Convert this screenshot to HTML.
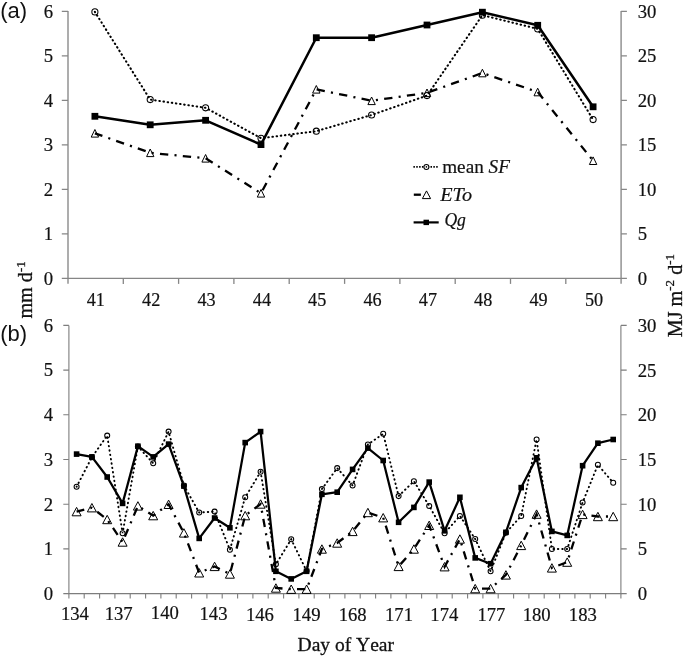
<!DOCTYPE html>
<html lang="en"><head><meta charset="utf-8"><title>Sap flow, ETo and Qg by day of year</title>
<style>
html,body{margin:0;padding:0;background:#fff;}
body{width:684px;height:657px;overflow:hidden;position:relative;}
svg{display:block;position:absolute;left:0;top:0;}
text{font-family:"Liberation Serif","Times New Roman",serif;font-size:18.7px;fill:#111;stroke:#111;stroke-width:0.2;}
.sans{font-family:"Liberation Sans",Arial,sans-serif;font-size:22px;fill:#111;stroke:none;}
.ax{stroke:#868686;stroke-width:1.15;fill:none;}
.solid{stroke:#000;stroke-width:2.5;fill:none;stroke-linejoin:round;}
.dot{stroke:#000;stroke-width:2.05;fill:none;stroke-dasharray:0.5 3.69;stroke-linecap:round;stroke-dashoffset:0.25;}
.dd{stroke:#000;stroke-width:2.3;fill:none;stroke-dasharray:8.31 6.23 2.08 6.24;stroke-dashoffset:0.4;}
.sq{fill:#000;stroke:none;}
.ci{fill:none;stroke:#000;stroke-width:1.05;}
.tr{fill:none;stroke:#000;stroke-width:1;}
.it{font-style:italic;}
.sup{font-size:13px;}
.ttl{font-size:20.2px;stroke:#111;stroke-width:0.3;}
</style></head><body>
<svg width="684" height="657" viewBox="0 0 684 657">
<rect x="0" y="0" width="684" height="657" fill="#fff"/>

<g class="ax">
<path d="M68.0 10.9V283.7M621.1 10.9V283.7" style="stroke-width:1.5;stroke:#939393"/>
<path d="M68.0 278.4H621.1"/>
<path d="M61.8 278.4H68.0M621.1 278.4H626.9"/>
<path d="M61.8 233.9H68.0M621.1 233.9H626.9"/>
<path d="M61.8 189.4H68.0M621.1 189.4H626.9"/>
<path d="M61.8 144.9H68.0M621.1 144.9H626.9"/>
<path d="M61.8 100.4H68.0M621.1 100.4H626.9"/>
<path d="M61.8 55.9H68.0M621.1 55.9H626.9"/>
<path d="M61.8 11.4H68.0M621.1 11.4H626.9"/>
<path d="M123.3 278.4V283.9" style="stroke-width:1.3"/>
<path d="M178.6 278.4V283.9" style="stroke-width:1.3"/>
<path d="M233.9 278.4V283.9" style="stroke-width:1.3"/>
<path d="M289.2 278.4V283.9" style="stroke-width:1.3"/>
<path d="M344.6 278.4V283.9" style="stroke-width:1.3"/>
<path d="M399.9 278.4V283.9" style="stroke-width:1.3"/>
<path d="M455.2 278.4V283.9" style="stroke-width:1.3"/>
<path d="M510.5 278.4V283.9" style="stroke-width:1.3"/>
<path d="M565.8 278.4V283.9" style="stroke-width:1.3"/>
</g>
<g text-anchor="middle">
<text x="48.3" y="284.7">0</text>
<text x="48.3" y="240.2">1</text>
<text x="48.3" y="195.7">2</text>
<text x="48.3" y="151.2">3</text>
<text x="48.3" y="106.7">4</text>
<text x="48.3" y="62.2">5</text>
<text x="48.3" y="17.7">6</text>
</g><g text-anchor="start">
<text x="637.7" y="284.8">0</text>
<text x="637.7" y="240.3">5</text>
<text x="637.7" y="195.8">10</text>
<text x="637.7" y="151.3">15</text>
<text x="637.7" y="106.8">20</text>
<text x="637.7" y="62.3">25</text>
<text x="637.7" y="17.8">30</text>
</g><g text-anchor="middle">
<text x="95.8" y="306" style="font-size:18.2px">41</text>
<text x="151.2" y="306" style="font-size:18.2px">42</text>
<text x="206.5" y="306" style="font-size:18.2px">43</text>
<text x="261.9" y="306" style="font-size:18.2px">44</text>
<text x="317.2" y="306" style="font-size:18.2px">45</text>
<text x="372.5" y="306" style="font-size:18.2px">46</text>
<text x="427.9" y="306" style="font-size:18.2px">47</text>
<text x="483.2" y="306" style="font-size:18.2px">48</text>
<text x="538.6" y="306" style="font-size:18.2px">49</text>
<text x="594.0" y="306" style="font-size:18.2px">50</text>
</g>
<polyline class="dd" style="stroke-dasharray:8.34 6.26 2.09 6.26" points="94.9,133.3 150.2,152.8 205.6,158.3 261.0,193.3 316.3,89.3 371.6,100.8 427.0,92.8 482.4,73.0 537.7,92.0 593.1,160.7"/>
<g class="tr"><path d="M91.2 137.1L94.9 129.5L98.6 137.1Z"/><path d="M146.6 156.6L150.2 149.0L153.9 156.6Z"/><path d="M201.9 162.1L205.6 154.5L209.3 162.1Z"/><path d="M257.3 197.1L261.0 189.5L264.7 197.1Z"/><path d="M312.6 93.1L316.3 85.5L320.0 93.1Z"/><path d="M367.9 104.6L371.6 97.0L375.3 104.6Z"/><path d="M423.3 96.6L427.0 89.0L430.7 96.6Z"/><path d="M478.7 76.8L482.4 69.2L486.1 76.8Z"/><path d="M534.0 95.8L537.7 88.2L541.4 95.8Z"/><path d="M589.4 164.5L593.1 156.9L596.8 164.5Z"/></g>
<polyline class="dot" points="94.9,11.9 150.2,99.6 205.6,107.8 261.0,138.2 316.3,131.2 371.6,115.0 427.0,95.6 482.4,15.2 537.7,28.9 593.1,119.6"/>
<g class="ci"><circle cx="94.9" cy="11.9" r="3.05"/><circle cx="150.2" cy="99.6" r="3.05"/><circle cx="205.6" cy="107.8" r="3.05"/><circle cx="261.0" cy="138.2" r="3.05"/><circle cx="316.3" cy="131.2" r="3.05"/><circle cx="371.6" cy="115.0" r="3.05"/><circle cx="427.0" cy="95.6" r="3.05"/><circle cx="482.4" cy="15.2" r="3.05"/><circle cx="537.7" cy="28.9" r="3.05"/><circle cx="593.1" cy="119.6" r="3.05"/></g>
<polyline class="solid" points="94.9,116.3 150.2,124.8 205.6,120.3 261.0,144.6 316.3,37.7 371.6,37.7 427.0,25.0 482.4,12.2 537.7,25.3 593.1,106.8"/>
<g class="sq"><rect x="91.5" y="112.9" width="6.8" height="6.8"/><rect x="146.8" y="121.4" width="6.8" height="6.8"/><rect x="202.2" y="116.9" width="6.8" height="6.8"/><rect x="257.6" y="141.2" width="6.8" height="6.8"/><rect x="312.9" y="34.3" width="6.8" height="6.8"/><rect x="368.2" y="34.3" width="6.8" height="6.8"/><rect x="423.6" y="21.6" width="6.8" height="6.8"/><rect x="479.0" y="8.8" width="6.8" height="6.8"/><rect x="534.3" y="21.9" width="6.8" height="6.8"/><rect x="589.7" y="103.4" width="6.8" height="6.8"/></g>
<path d="M413.4 166.9H438" stroke="#000" stroke-width="1.6" stroke-dasharray="1.5 1.35" fill="none"/>
<circle cx="426.4" cy="166.9" r="2.5" fill="#fff" stroke="#000" stroke-width="1.05"/><circle cx="426.4" cy="166.9" r="0.8" fill="#000"/>
<text x="442.2" y="172.6" style="font-size:19.2px">mean <tspan class="it">SF</tspan></text>
<path d="M413.8 194.7H420.9" stroke="#000" stroke-width="2.3" fill="none"/>
<path d="M422.4 198.6L426.5 190.9L430.6 198.6Z" class="tr" fill="#fff"/>
<text transform="translate(440.2,200.8) scale(1.08,1)" class="it">ETo</text>
<path d="M413.6 222.4H438.7" stroke="#000" stroke-width="2.2" fill="none"/>
<rect x="423.5" y="219.7" width="5.5" height="5.4" fill="#000"/>
<text transform="translate(444.4,226.2) scale(0.94,1)" class="it">Qg</text>
<text class="sans" x="0.3" y="17.8">(a)</text>
<text class="sans" x="0.3" y="340.8">(b)</text>
<text class="ttl" transform="translate(32.2,318.6) rotate(-90)">mm d<tspan class="sup" dy="-7.5">-1</tspan></text>
<text class="ttl" transform="translate(681.7,337.3) rotate(-90)">MJ m<tspan class="sup" dy="-7.5">-2</tspan><tspan dy="7.5"> d</tspan><tspan class="sup" dy="-7.5">-1</tspan></text>
<text x="345.8" y="650.5" text-anchor="middle" style="font-size:19.5px;font-kerning:none;stroke:#111;stroke-width:0.3">Day of Year</text>
<g class="ax" style="stroke-width:1.1;stroke:#7d7d7d">
<path d="M68.9 325.4V593.6H620.9V325.4"/>
<path d="M63.300000000000004 593.6H68.9M620.9 593.6H626.6999999999999"/>
<path d="M63.300000000000004 548.9H68.9M620.9 548.9H626.6999999999999"/>
<path d="M63.300000000000004 504.2H68.9M620.9 504.2H626.6999999999999"/>
<path d="M63.300000000000004 459.5H68.9M620.9 459.5H626.6999999999999"/>
<path d="M63.300000000000004 414.8H68.9M620.9 414.8H626.6999999999999"/>
<path d="M63.300000000000004 370.1H68.9M620.9 370.1H626.6999999999999"/>
<path d="M63.300000000000004 325.4H68.9M620.9 325.4H626.6999999999999"/>
<path d="M68.9 593.6V598.6"/>
<path d="M84.2 593.6V598.6"/>
<path d="M99.6 593.6V598.6"/>
<path d="M114.9 593.6V598.6"/>
<path d="M130.2 593.6V598.6"/>
<path d="M145.6 593.6V598.6"/>
<path d="M160.9 593.6V598.6"/>
<path d="M176.2 593.6V598.6"/>
<path d="M191.6 593.6V598.6"/>
<path d="M206.9 593.6V598.6"/>
<path d="M222.2 593.6V598.6"/>
<path d="M237.6 593.6V598.6"/>
<path d="M252.9 593.6V598.6"/>
<path d="M268.2 593.6V598.6"/>
<path d="M283.6 593.6V598.6"/>
<path d="M298.9 593.6V598.6"/>
<path d="M314.2 593.6V598.6"/>
<path d="M329.6 593.6V598.6"/>
<path d="M344.9 593.6V598.6"/>
<path d="M360.2 593.6V598.6"/>
<path d="M375.6 593.6V598.6"/>
<path d="M390.9 593.6V598.6"/>
<path d="M406.2 593.6V598.6"/>
<path d="M421.6 593.6V598.6"/>
<path d="M436.9 593.6V598.6"/>
<path d="M452.2 593.6V598.6"/>
<path d="M467.6 593.6V598.6"/>
<path d="M482.9 593.6V598.6"/>
<path d="M498.2 593.6V598.6"/>
<path d="M513.6 593.6V598.6"/>
<path d="M528.9 593.6V598.6"/>
<path d="M544.2 593.6V598.6"/>
<path d="M559.6 593.6V598.6"/>
<path d="M574.9 593.6V598.6"/>
<path d="M590.2 593.6V598.6"/>
<path d="M605.6 593.6V598.6"/>
<path d="M620.9 593.6V598.6"/>
</g>
<g text-anchor="middle">
<text x="48.3" y="599.9">0</text>
<text x="48.3" y="555.2">1</text>
<text x="48.3" y="510.5">2</text>
<text x="48.3" y="465.8">3</text>
<text x="48.3" y="421.1">4</text>
<text x="48.3" y="376.4">5</text>
<text x="48.3" y="331.7">6</text>
</g><g text-anchor="start">
<text x="637.7" y="600.0">0</text>
<text x="637.7" y="555.3">5</text>
<text x="637.7" y="510.6">10</text>
<text x="637.7" y="465.9">15</text>
<text x="637.7" y="421.2">20</text>
<text x="637.7" y="376.5">25</text>
<text x="637.7" y="331.8">30</text>
</g><g text-anchor="middle">
<text x="74.9" y="620.2">134</text>
<text x="118.7" y="620.2">137</text>
<text x="164.8" y="619.1">140</text>
<text x="213.5" y="619.5">143</text>
<text x="259.9" y="621.1">146</text>
<text x="306.5" y="621.3">149</text>
<text x="352.7" y="620.6">168</text>
<text x="399.0" y="620.6">171</text>
<text x="444.3" y="620.6">174</text>
<text x="491.4" y="620.6">177</text>
<text x="536.7" y="620.6">180</text>
<text x="582.8" y="620.6">183</text>
</g>
<polyline class="dd" points="76.6,511.6 91.9,507.7 107.2,519.5 122.6,542.0 137.9,505.9 153.2,515.6 168.6,504.3 183.9,532.9 199.2,572.8 214.6,566.4 229.9,574.0 245.2,515.6 260.6,504.0 275.9,588.0 291.2,589.2 306.6,589.2 321.9,549.0 337.2,543.0 352.6,531.4 367.9,512.5 383.2,517.7 398.6,566.4 413.9,549.0 429.2,525.3 444.6,566.7 459.9,539.0 475.2,588.6 490.6,588.6 505.9,574.9 521.2,545.4 536.6,514.1 551.9,567.9 567.2,562.1 582.6,514.4 597.9,516.5 613.2,516.5"/>
<g class="tr"><path d="M72.1 515.8L76.6 507.4L81.1 515.8Z"/><path d="M87.4 511.9L91.9 503.5L96.4 511.9Z"/><path d="M102.7 523.7L107.2 515.3L111.7 523.7Z"/><path d="M118.1 546.2L122.6 537.8L127.1 546.2Z"/><path d="M133.4 510.1L137.9 501.7L142.4 510.1Z"/><path d="M148.7 519.8L153.2 511.4L157.7 519.8Z"/><path d="M164.1 508.5L168.6 500.1L173.1 508.5Z"/><path d="M179.4 537.1L183.9 528.7L188.4 537.1Z"/><path d="M194.7 577.0L199.2 568.6L203.7 577.0Z"/><path d="M210.1 570.6L214.6 562.2L219.1 570.6Z"/><path d="M225.4 578.2L229.9 569.8L234.4 578.2Z"/><path d="M240.7 519.8L245.2 511.4L249.7 519.8Z"/><path d="M256.1 508.2L260.6 499.8L265.1 508.2Z"/><path d="M271.4 592.2L275.9 583.8L280.4 592.2Z"/><path d="M286.7 593.4L291.2 585.0L295.7 593.4Z"/><path d="M302.1 593.4L306.6 585.0L311.1 593.4Z"/><path d="M317.4 553.2L321.9 544.8L326.4 553.2Z"/><path d="M332.7 547.2L337.2 538.8L341.7 547.2Z"/><path d="M348.1 535.6L352.6 527.2L357.1 535.6Z"/><path d="M363.4 516.7L367.9 508.3L372.4 516.7Z"/><path d="M378.7 521.9L383.2 513.5L387.7 521.9Z"/><path d="M394.1 570.6L398.6 562.2L403.1 570.6Z"/><path d="M409.4 553.2L413.9 544.8L418.4 553.2Z"/><path d="M424.7 529.5L429.2 521.1L433.7 529.5Z"/><path d="M440.1 570.9L444.6 562.5L449.1 570.9Z"/><path d="M455.4 543.2L459.9 534.8L464.4 543.2Z"/><path d="M470.7 592.8L475.2 584.4L479.7 592.8Z"/><path d="M486.1 592.8L490.6 584.4L495.1 592.8Z"/><path d="M501.4 579.1L505.9 570.7L510.4 579.1Z"/><path d="M516.7 549.6L521.2 541.2L525.7 549.6Z"/><path d="M532.1 518.3L536.6 509.9L541.1 518.3Z"/><path d="M547.4 572.1L551.9 563.7L556.4 572.1Z"/><path d="M562.7 566.3L567.2 557.9L571.7 566.3Z"/><path d="M578.1 518.6L582.6 510.2L587.1 518.6Z"/><path d="M593.4 520.7L597.9 512.3L602.4 520.7Z"/><path d="M608.7 520.7L613.2 512.3L617.7 520.7Z"/></g>
<polyline class="dot" style="stroke-width:1.9;stroke-dasharray:0.5 3.9" points="76.6,486.7 91.9,457.2 107.2,435.6 122.6,533.2 137.9,446.5 153.2,463.3 168.6,431.6 183.9,485.5 199.2,512.5 214.6,511.6 229.9,549.7 245.2,497.3 260.6,471.8 275.9,564.3 291.2,539.3 306.6,571.0 321.9,489.1 337.2,468.1 352.6,485.5 367.9,444.4 383.2,433.8 398.6,496.1 413.9,481.2 429.2,505.9 444.6,533.2 459.9,515.9 475.2,539.0 490.6,571.3 505.9,532.8 521.2,515.9 536.6,439.5 551.9,549.0 567.2,549.0 582.6,502.5 597.9,464.8 613.2,482.7"/>
<g class="ci"><circle cx="76.6" cy="486.7" r="2.5"/><circle cx="91.9" cy="457.2" r="2.5"/><circle cx="107.2" cy="435.6" r="2.5"/><circle cx="122.6" cy="533.2" r="2.5"/><circle cx="137.9" cy="446.5" r="2.5"/><circle cx="153.2" cy="463.3" r="2.5"/><circle cx="168.6" cy="431.6" r="2.5"/><circle cx="183.9" cy="485.5" r="2.5"/><circle cx="199.2" cy="512.5" r="2.5"/><circle cx="214.6" cy="511.6" r="2.5"/><circle cx="229.9" cy="549.7" r="2.5"/><circle cx="245.2" cy="497.3" r="2.5"/><circle cx="260.6" cy="471.8" r="2.5"/><circle cx="275.9" cy="564.3" r="2.5"/><circle cx="291.2" cy="539.3" r="2.5"/><circle cx="306.6" cy="571.0" r="2.5"/><circle cx="321.9" cy="489.1" r="2.5"/><circle cx="337.2" cy="468.1" r="2.5"/><circle cx="352.6" cy="485.5" r="2.5"/><circle cx="367.9" cy="444.4" r="2.5"/><circle cx="383.2" cy="433.8" r="2.5"/><circle cx="398.6" cy="496.1" r="2.5"/><circle cx="413.9" cy="481.2" r="2.5"/><circle cx="429.2" cy="505.9" r="2.5"/><circle cx="444.6" cy="533.2" r="2.5"/><circle cx="459.9" cy="515.9" r="2.5"/><circle cx="475.2" cy="539.0" r="2.5"/><circle cx="490.6" cy="571.3" r="2.5"/><circle cx="505.9" cy="532.8" r="2.5"/><circle cx="521.2" cy="515.9" r="2.5"/><circle cx="536.6" cy="439.5" r="2.5"/><circle cx="551.9" cy="549.0" r="2.5"/><circle cx="567.2" cy="549.0" r="2.5"/><circle cx="582.6" cy="502.5" r="2.5"/><circle cx="597.9" cy="464.8" r="2.5"/><circle cx="613.2" cy="482.7" r="2.5"/></g>
<polyline class="solid" style="stroke-width:2.25" points="76.6,454.1 91.9,456.9 107.2,477.0 122.6,503.4 137.9,446.2 153.2,456.9 168.6,444.1 183.9,486.1 199.2,538.4 214.6,518.0 229.9,527.8 245.2,442.6 260.6,431.6 275.9,571.3 291.2,578.9 306.6,571.3 321.9,494.3 337.2,492.2 352.6,469.4 367.9,448.1 383.2,460.5 398.6,522.3 413.9,507.4 429.2,482.1 444.6,530.8 459.9,497.3 475.2,557.9 490.6,563.7 505.9,532.3 521.2,487.6 536.6,457.8 551.9,531.4 567.2,535.4 582.6,465.7 597.9,443.2 613.2,439.5"/>
<g class="sq"><rect x="73.8" y="451.3" width="5.6" height="5.6"/><rect x="89.1" y="454.1" width="5.6" height="5.6"/><rect x="104.4" y="474.2" width="5.6" height="5.6"/><rect x="119.8" y="500.6" width="5.6" height="5.6"/><rect x="135.1" y="443.4" width="5.6" height="5.6"/><rect x="150.4" y="454.1" width="5.6" height="5.6"/><rect x="165.8" y="441.3" width="5.6" height="5.6"/><rect x="181.1" y="483.3" width="5.6" height="5.6"/><rect x="196.4" y="535.6" width="5.6" height="5.6"/><rect x="211.8" y="515.2" width="5.6" height="5.6"/><rect x="227.1" y="525.0" width="5.6" height="5.6"/><rect x="242.4" y="439.8" width="5.6" height="5.6"/><rect x="257.8" y="428.8" width="5.6" height="5.6"/><rect x="273.1" y="568.5" width="5.6" height="5.6"/><rect x="288.4" y="576.1" width="5.6" height="5.6"/><rect x="303.8" y="568.5" width="5.6" height="5.6"/><rect x="319.1" y="491.5" width="5.6" height="5.6"/><rect x="334.4" y="489.4" width="5.6" height="5.6"/><rect x="349.8" y="466.6" width="5.6" height="5.6"/><rect x="365.1" y="445.3" width="5.6" height="5.6"/><rect x="380.4" y="457.7" width="5.6" height="5.6"/><rect x="395.8" y="519.5" width="5.6" height="5.6"/><rect x="411.1" y="504.6" width="5.6" height="5.6"/><rect x="426.4" y="479.3" width="5.6" height="5.6"/><rect x="441.8" y="528.0" width="5.6" height="5.6"/><rect x="457.1" y="494.5" width="5.6" height="5.6"/><rect x="472.4" y="555.1" width="5.6" height="5.6"/><rect x="487.8" y="560.9" width="5.6" height="5.6"/><rect x="503.1" y="529.5" width="5.6" height="5.6"/><rect x="518.4" y="484.8" width="5.6" height="5.6"/><rect x="533.8" y="455.0" width="5.6" height="5.6"/><rect x="549.1" y="528.6" width="5.6" height="5.6"/><rect x="564.4" y="532.6" width="5.6" height="5.6"/><rect x="579.8" y="462.9" width="5.6" height="5.6"/><rect x="595.1" y="440.4" width="5.6" height="5.6"/><rect x="610.4" y="436.7" width="5.6" height="5.6"/></g>
</svg></body></html>
